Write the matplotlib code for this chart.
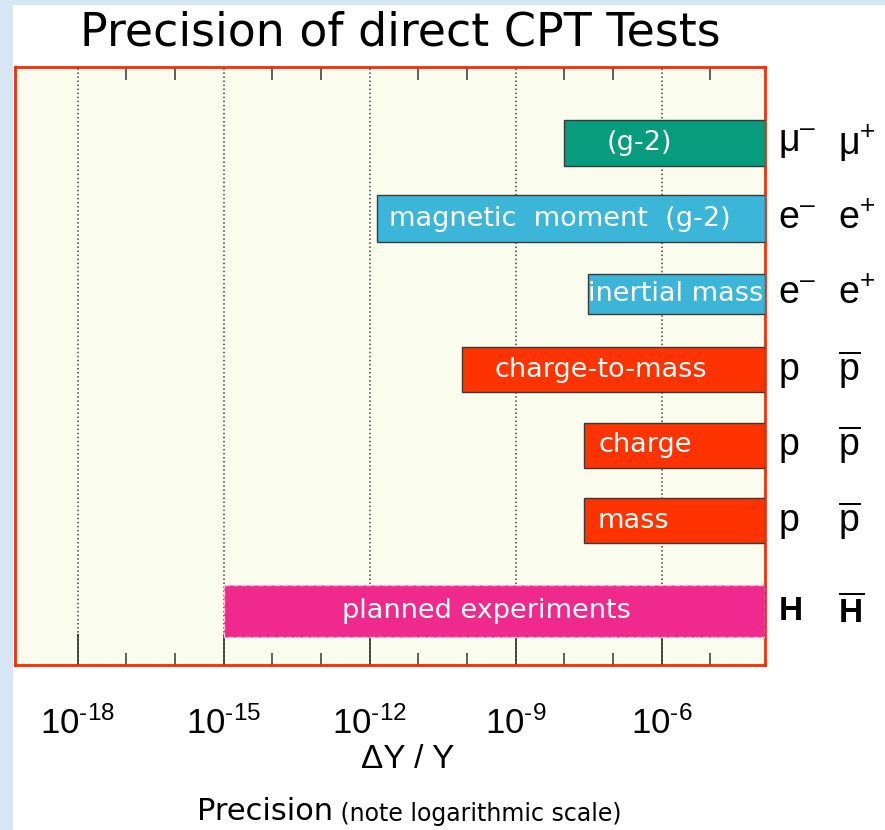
import numpy as np
import matplotlib
matplotlib.use("Agg")
import matplotlib.pyplot as plt
from matplotlib.patches import Rectangle
from matplotlib.ticker import FixedLocator, FuncFormatter

plt.rcParams['mathtext.fontset'] = 'custom'
plt.rcParams['mathtext.rm'] = 'Liberation Sans'
plt.rcParams['mathtext.it'] = 'Liberation Sans:italic'
plt.rcParams['mathtext.bf'] = 'Liberation Sans:bold'

# precision reached by each test (lower end of the bar, dY/Y)
tests = ["(g-2)", "magnetic  moment  (g-2)", "inertial mass", "charge-to-mass",
         "charge", "mass", "planned experiments"]
precision = [1.0e-8, 1.4e-12, 3.0e-8, 8.0e-11, 2.5e-8, 2.5e-8, 1.0e-15]
particles = [r"μ$^{\text{–}}$", r"e$^{\text{–}}$", r"e$^{\text{–}}$", "p", "p", "p",
             r"$\mathbf{H}$"]
antiparticles = [r"μ$^{+}$", r"e$^{+}$", r"e$^{+}$", r"$\overline{\mathrm{p}}$",
                 r"$\overline{\mathrm{p}}$", r"$\overline{\mathrm{p}}$",
                 r"$\overline{\mathbf{H}}$"]
decade_labels = [-18, -15, -12, -9, -6]

colors = ["#079c7e", "#3bb6d8", "#3bb6d8", "#ff3300", "#ff3300", "#ff3300", "#f02a8c"]
rows = [0, 1, 2, 3, 4, 5, 6.2]
heights = [0.61, 0.62, 0.52, 0.59, 0.6, 0.6, 0.69]
label_at = [-6.47, -8.1, -5.72, -7.25, -6.35, -6.58, -9.6]

xmin, xmax = 10 ** -19.29, 10 ** -3.88

fig = plt.figure(figsize=(8.85, 8.3), dpi=100)
fig.patch.set_facecolor("#d6e6f5")
fig.patches.append(Rectangle((13 / 885, 0), 1, 825 / 830, transform=fig.transFigure,
                             facecolor="white", edgecolor="none", zorder=-1))

ax = fig.add_axes([15 / 885, 165 / 830, 750 / 885, 598 / 830])
ax.set_facecolor("#fafcee")
ax.set_xscale("log")
ax.set_xlim(xmin, xmax)
ax.set_ylim(6.91, -1.007)

for i in range(len(tests)):
    planned = tests[i] == "planned experiments"
    ax.barh(rows[i], xmax - precision[i], left=precision[i], height=heights[i],
            color=colors[i], edgecolor="#f7c2dc" if planned else "#3a3a3a",
            linestyle=(0, (4, 2)) if planned else "-",
            linewidth=1.0, zorder=3)
    ax.text(10 ** label_at[i], rows[i], tests[i], color="white", fontsize=19.5,
            ha="center", va="center", family="DejaVu Sans", zorder=4)
    size = 24 if planned else 27
    ax.text(1.018, rows[i], particles[i], transform=ax.get_yaxis_transform(),
            fontsize=size, family="Liberation Sans", ha="left", va="center")
    ax.text(1.098, rows[i], antiparticles[i], transform=ax.get_yaxis_transform(),
            fontsize=size, family="Liberation Sans", ha="left", va="center")

# ticks: every decade, labelled ones get a long tick and a dotted gridline
ax.xaxis.set_major_locator(FixedLocator([10.0 ** d for d in decade_labels]))
ax.xaxis.set_minor_locator(FixedLocator([10.0 ** d for d in range(-17, -4)
                                         if d not in decade_labels]))
ax.xaxis.set_major_formatter(
    FuncFormatter(lambda v, p: r"$10^{\text{%d}}$" % round(np.log10(v))))
ax.xaxis.set_minor_formatter(FuncFormatter(lambda v, p: ""))
ax.tick_params(axis="x", which="major", direction="in", length=22, width=1.2,
               color="#333333", top=False, pad=30, labelsize=25)
ax.tick_params(axis="x", which="minor", direction="in", length=9, width=1.2,
               color="#444444", top=True, bottom=True)
ax.set_yticks([])
ax.grid(axis="x", which="major", linestyle=":", color="#444444", linewidth=1.1, zorder=1)
for s in ax.spines.values():
    s.set_color("#ff2a00")
    s.set_linewidth(2.0)

fig.text(400 / 885, 1 - 33 / 830, "Precision of direct CPT Tests", fontsize=33,
         family="DejaVu Sans", ha="center", va="center")
fig.text(408 / 885, 1 - 760 / 830, "ΔY / Y", fontsize=24, family="Liberation Sans",
         ha="center", va="center")
t1 = fig.text(197 / 885, 1 - 820 / 830, "Precision", fontsize=22, family="DejaVu Sans",
              ha="left", va="baseline")
ax.annotate(" (note logarithmic scale)", xy=(1, 0), xycoords=t1, fontsize=17,
            family="DejaVu Sans", va="bottom", annotation_clip=False)

fig.savefig("out.png", dpi=100, facecolor=fig.get_facecolor())
